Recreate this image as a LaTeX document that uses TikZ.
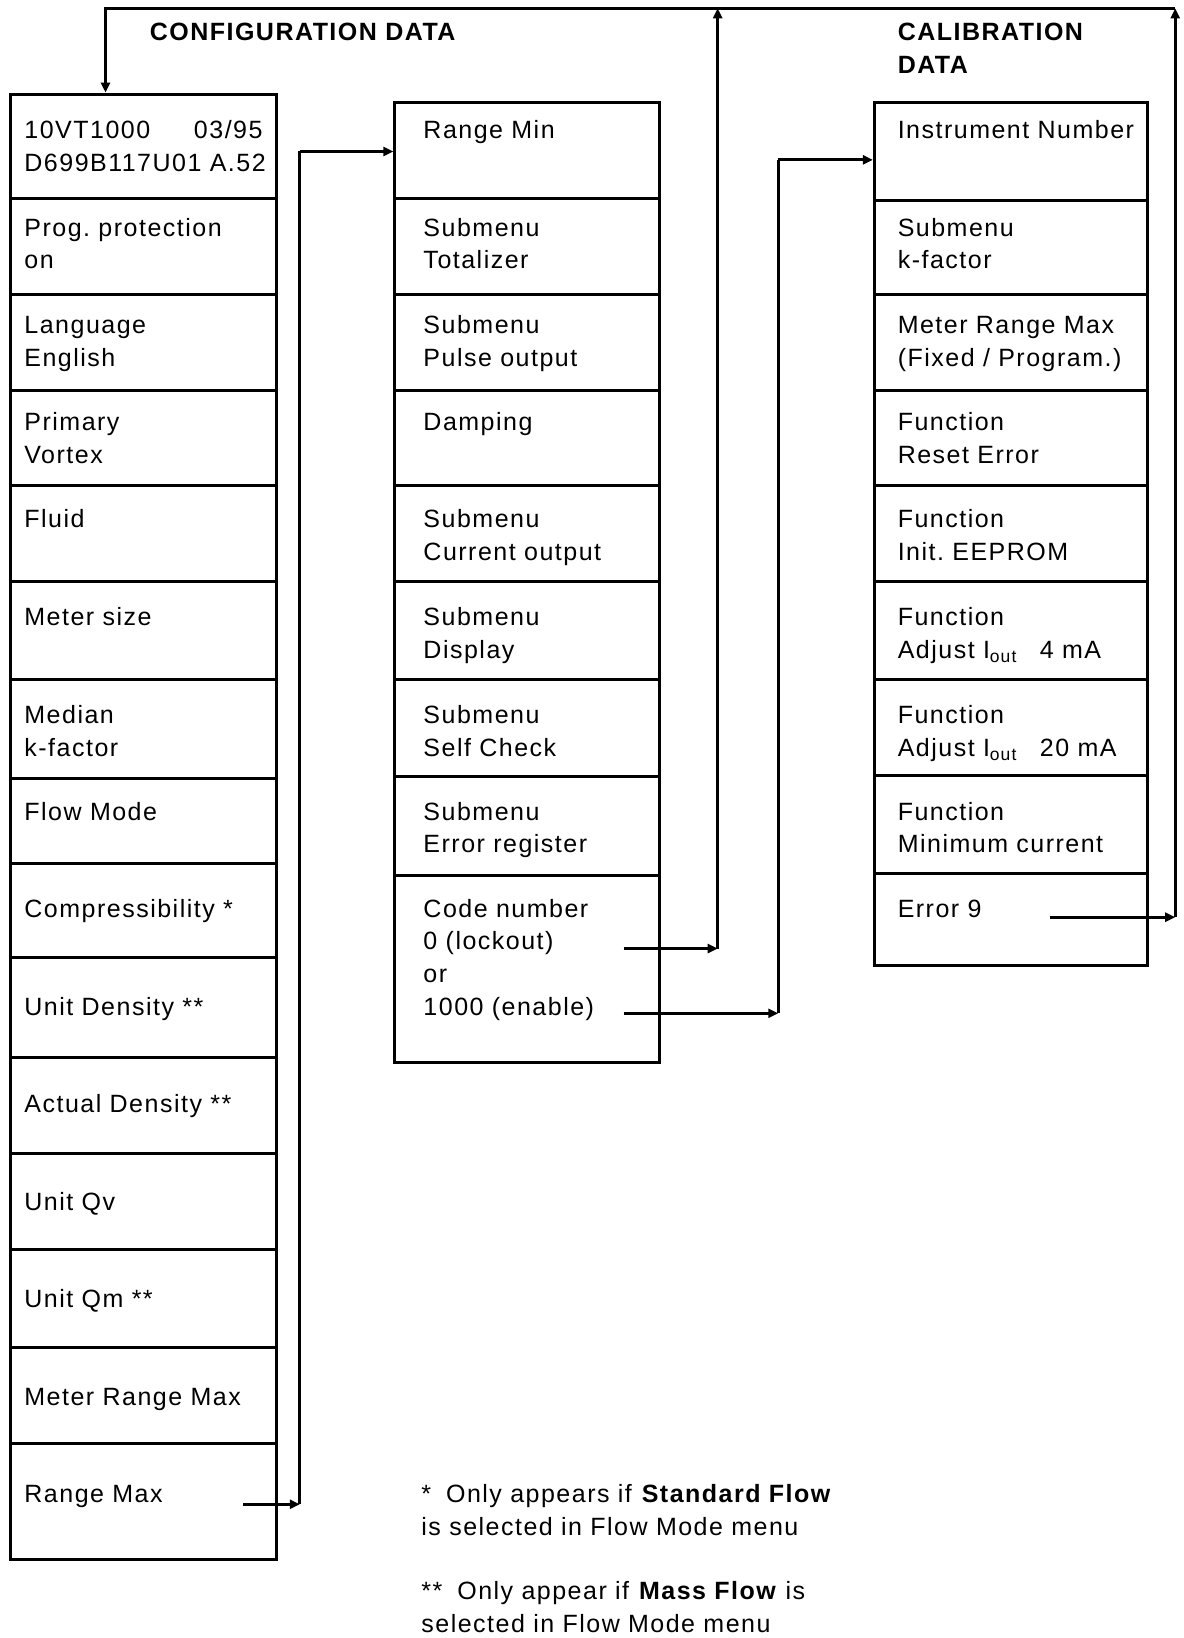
\documentclass[tikz,border=0pt]{standalone}
\usepackage{fontspec}
\setmainfont{Liberation Sans}[LetterSpace=6]
\usetikzlibrary{arrows.meta,fit,calc}
\frenchspacing
\tikzset{
  cellbox/.style={draw, line width=1.5pt, inner sep=0pt},
  txt/.style={anchor=base west, inner sep=0pt, align=left, text width=140pt,
              font=\fontsize{12.5}{16.4}\selectfont},
  head/.style={txt, text width=200pt, font=\fontsize{12.5}{16.4}\selectfont\bfseries},
  conn/.style={line width=1.5pt, line join=miter},
  arr/.style={conn, -{Triangle[length=5pt,width=4.5pt]}}
}
% name, x1, y1, x2, y2, text x, baseline y, text
\newcommand\mycell[8]{%
  \node[cellbox, fit={(#2,#3) (#4,#5)}] (#1) {};
  \node[txt] (#1t) at (#6,#7) {#8};}
\begin{document}
\begin{tikzpicture}[x=0.5225pt,y=-0.5225pt]
\useasboundingbox (0,0) rectangle (1133,1568);
% headings
\node[head] (h1) at (143,39) {CONFIGURATION DATA};
\node[head] (h2) at (859,39) {CALIBRATION\\DATA};
% left column
\mycell{L1}{10}{90}{265}{190}{23}{133}{10VT1000\hspace{1.75em}03/95\\D699B117U01 A.52}
\mycell{L2}{10}{190}{265}{282}{23}{226}{Prog. protection\\on}
\mycell{L3}{10}{282}{265}{374}{23}{319}{Language\\English}
\mycell{L4}{10}{374}{265}{465}{23}{412}{Primary\\Vortex}
\mycell{L5}{10}{465}{265}{557}{23}{505}{Fluid}
\mycell{L6}{10}{557}{265}{650}{23}{599}{Meter size}
\mycell{L7}{10}{650}{265}{745}{23}{693}{Median\\k-factor}
\mycell{L8}{10}{745}{265}{827}{23}{785}{Flow Mode}
\mycell{L9}{10}{827}{265}{917}{23}{878}{Compressibility *}
\mycell{L10}{10}{917}{265}{1012}{23}{972}{Unit Density **}
\mycell{L11}{10}{1012}{265}{1104}{23}{1065}{Actual Density **}
\mycell{L12}{10}{1104}{265}{1196}{23}{1159}{Unit Qv}
\mycell{L13}{10}{1196}{265}{1290}{23}{1252}{Unit Qm **}
\mycell{L14}{10}{1290}{265}{1382}{23}{1345}{Meter Range Max}
\mycell{L15}{10}{1382}{265}{1493}{23}{1438}{Range Max}
% middle column
\mycell{M1}{378}{98}{631}{190}{405}{133}{Range Min}
\mycell{M2}{378}{190}{631}{282}{405}{226}{Submenu\\Totalizer}
\mycell{M3}{378}{282}{631}{374}{405}{319}{Submenu\\Pulse output}
\mycell{M4}{378}{374}{631}{465}{405}{412}{Damping}
\mycell{M5}{378}{465}{631}{557}{405}{505}{Submenu\\Current output}
\mycell{M6}{378}{557}{631}{650}{405}{599}{Submenu\\Display}
\mycell{M7}{378}{650}{631}{743}{405}{693}{Submenu\\Self Check}
\mycell{M8}{378}{743}{631}{838}{405}{785}{Submenu\\Error register}
\mycell{M9}{378}{838}{631}{1017}{405}{878}{Code number\\0 (lockout)\\or\\1000 (enable)}
% right column
\mycell{R1}{837}{98}{1098}{192}{859}{133}{Instrument Number}
\mycell{R2}{837}{192}{1098}{282}{859}{226}{Submenu\\k-factor}
\mycell{R3}{837}{282}{1098}{374}{859}{319}{Meter Range Max\\(Fixed / Program.)}
\mycell{R4}{837}{374}{1098}{465}{859}{412}{Function\\Reset Error}
\mycell{R5}{837}{465}{1098}{557}{859}{505}{Function\\Init. EEPROM}
\mycell{R6}{837}{557}{1098}{650}{859}{599}{Function\\Adjust I\textsubscript{out}\hspace{0.9em}4 mA}
\mycell{R7}{837}{650}{1098}{742}{859}{693}{Function\\Adjust I\textsubscript{out}\hspace{0.9em}20 mA}
\mycell{R8}{837}{742}{1098}{836}{859}{785}{Function\\Minimum current}
\mycell{R9}{837}{836}{1098}{924}{859}{878}{Error 9}
% footnotes
\node[txt, text width=230pt] (f1) at (403,1438) {*\hspace{0.6em}Only appears if \textbf{Standard Flow}\\is selected in Flow Mode menu};
\node[txt, text width=230pt] (f2) at (403,1531) {**\hspace{0.6em}Only appear if \textbf{Mass Flow} is\\selected in Flow Mode menu};
% connector points
\coordinate (rmS) at (233,1440);
\coordinate (c1) at (287,1440);
\coordinate (c2) at (287,145);
\coordinate (lkS) at (597,908);
\coordinate (c3) at (687,908);
\coordinate (enS) at (597,970);
\coordinate (c4) at (745,970);
\coordinate (c6) at (745,153);
\coordinate (e9S) at (1005,878);
\coordinate (c5) at (1125,878);
\coordinate (topR) at (1125,8);
\coordinate (topL) at (101,8);
% connectors
\draw[arr] (rmS) -- (c1);
\draw[conn] (c1) -- (c2);
\draw[arr] (c2) -- (c2 -| M1.west);
\draw[arr] (lkS) -- (c3);
\draw[arr] (c3) -- (c3 |- topR);
\draw[arr] (enS) -- (c4);
\draw[conn] (c4) -- (c6);
\draw[arr] (c6) -- (c6 -| R1.west);
\draw[arr] (e9S) -- (c5);
\draw[arr] (c5) -- (topR);
\draw[arr] (topR) -- (topL) -- (topL |- L1.north);
\end{tikzpicture}
\end{document}
